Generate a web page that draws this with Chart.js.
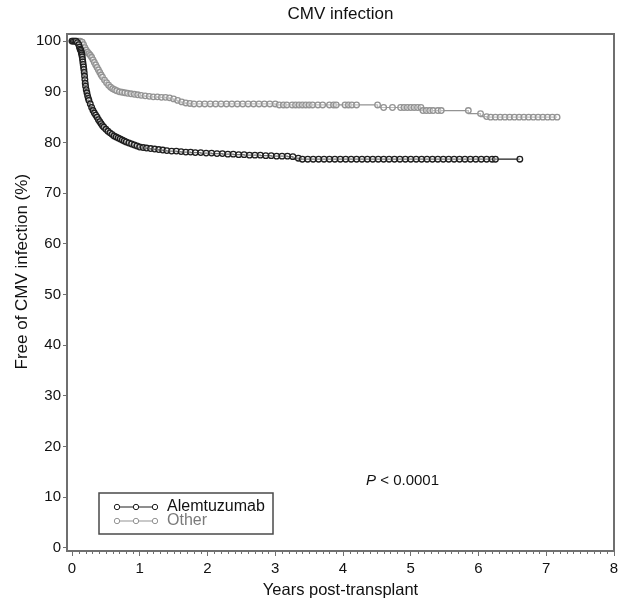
<!DOCTYPE html>
<html>
<head>
<meta charset="utf-8">
<script src="https://cdn.jsdelivr.net/npm/chart.js@4"></script>
<style>
  html, body { margin: 0; padding: 0; background: #fff; }
</style>
</head>
<body>
<canvas id="km-canvas" width="625" height="603"></canvas>
<script>
// Kaplan-Meier estimates (years post-transplant, % free of CMV infection)
const seriesLabels = ['Alemtuzumab', 'Other'];

const alemYears = [0, 0.02, 0.04, 0.06, 0.08, 0.1, 0.11, 0.12, 0.13, 0.135, 0.14, 0.145, 0.15, 0.155, 0.16,
    0.165, 0.17, 0.175, 0.18, 0.185, 0.19, 0.195, 0.2,
    0.21, 0.22, 0.23, 0.24, 0.25, 0.27, 0.29, 0.31, 0.33, 0.35, 0.37, 0.39, 0.41, 0.43, 0.45, 0.47, 0.5,
    0.53, 0.56, 0.59, 0.62, 0.65, 0.68, 0.71, 0.74, 0.77, 0.8, 0.84, 0.88, 0.92, 0.96, 1.0, 1.05, 1.1,
    1.16, 1.22, 1.28, 1.34, 1.4, 1.47, 1.54, 1.61, 1.68, 1.75, 1.82, 1.9, 1.98, 2.06, 2.14, 2.22, 2.3,
    2.38, 2.46, 2.54, 2.62, 2.7, 2.78, 2.86, 2.94, 3.02, 3.1, 3.18, 3.26, 3.34, 3.4, 3.48, 3.56, 3.64,
    3.72, 3.8, 3.88, 3.96, 4.04, 4.12, 4.2, 4.28, 4.36, 4.44, 4.52, 4.6, 4.68, 4.76, 4.84, 4.92, 5.0,
    5.08, 5.16, 5.24, 5.32, 5.4, 5.48, 5.56, 5.64, 5.72, 5.8, 5.88, 5.96, 6.04, 6.12, 6.2, 6.25, 6.61];
const alemFree = [100, 100, 100, 100, 99.7, 99.3, 98.8, 98.4, 98.2, 97.9, 97.6, 97.3, 96.9, 96.4, 95.9,
    95.4, 94.9, 94.4, 93.8, 93.1, 92.4, 91.7, 91.1,
    90.4, 89.8, 89.2, 88.7, 88.3, 87.6, 86.9, 86.3, 85.8, 85.4, 85.0, 84.5, 84.1, 83.7, 83.3, 83.0, 82.6,
    82.2, 81.9, 81.6, 81.3, 81.1, 80.9, 80.7, 80.5, 80.3, 80.1, 79.9, 79.7, 79.5, 79.3, 79.1, 79.0, 78.9,
    78.8, 78.7, 78.6, 78.5, 78.4, 78.3, 78.3, 78.2, 78.1, 78.1, 78.0, 78.0, 77.9, 77.9, 77.8, 77.8, 77.7,
    77.7, 77.6, 77.6, 77.5, 77.5, 77.5, 77.4, 77.4, 77.3, 77.3, 77.3, 77.2, 76.9, 76.7, 76.7, 76.7, 76.7,
    76.7, 76.7, 76.7, 76.7, 76.7, 76.7, 76.7, 76.7, 76.7, 76.7, 76.7, 76.7, 76.7, 76.7, 76.7, 76.7, 76.7,
    76.7, 76.7, 76.7, 76.7, 76.7, 76.7, 76.7, 76.7, 76.7, 76.7, 76.7, 76.7, 76.7, 76.7, 76.7, 76.7, 76.7];

const otherYears = [0, 0.03, 0.06, 0.09, 0.12, 0.15, 0.17, 0.19, 0.21, 0.23, 0.25, 0.27, 0.29, 0.31, 0.33,
    0.35, 0.37, 0.39, 0.41, 0.43, 0.45, 0.48, 0.51, 0.54, 0.57, 0.6, 0.63, 0.66, 0.7, 0.74, 0.78, 0.82,
    0.87, 0.92, 0.97, 1.02, 1.08, 1.14, 1.2, 1.26, 1.32, 1.38, 1.44, 1.5, 1.56, 1.62, 1.68, 1.74, 1.8,
    1.88, 1.96, 2.04, 2.12, 2.2, 2.28, 2.36, 2.44, 2.52, 2.6, 2.68, 2.76, 2.84, 2.92, 3.0, 3.06, 3.12,
    3.17, 3.25, 3.3, 3.35, 3.4, 3.45, 3.5, 3.55, 3.63, 3.7, 3.8, 3.86, 3.9, 4.03, 4.08, 4.13, 4.2, 4.51,
    4.6, 4.73, 4.85, 4.9, 4.95, 5.0, 5.05, 5.1, 5.15, 5.18, 5.23, 5.28, 5.33, 5.4, 5.45, 5.85, 6.03, 6.12,
    6.18, 6.25, 6.32, 6.39, 6.46, 6.53, 6.6, 6.67, 6.74, 6.81, 6.88, 6.95, 7.02, 7.09, 7.16];
const otherFree = [100, 100, 100, 100, 100, 99.8, 99.3, 98.7, 98.2, 97.8, 97.5, 97.2, 96.8, 96.3, 95.8,
    95.3, 94.8, 94.3, 93.8, 93.3, 92.9, 92.3, 91.8, 91.3, 90.9, 90.6, 90.4, 90.2, 90.0, 89.9, 89.8, 89.7,
    89.6, 89.5, 89.4, 89.3, 89.2, 89.1, 89.0, 89.0, 88.9, 88.9, 88.8, 88.6, 88.3, 88.0, 87.8, 87.7, 87.6,
    87.6, 87.6, 87.6, 87.6, 87.6, 87.6, 87.6, 87.6, 87.6, 87.6, 87.6, 87.6, 87.6, 87.6, 87.6, 87.4, 87.4,
    87.4, 87.4, 87.4, 87.4, 87.4, 87.4, 87.4, 87.4, 87.4, 87.4, 87.4, 87.4, 87.4, 87.4, 87.4, 87.4, 87.4, 87.4,
    86.9, 86.9, 86.9, 86.9, 86.9, 86.9, 86.9, 86.9, 86.9, 86.3, 86.3, 86.3, 86.3, 86.3, 86.3, 86.3, 85.7, 85.1,
    85.0, 85.0, 85.0, 85.0, 85.0, 85.0, 85.0, 85.0, 85.0, 85.0, 85.0, 85.0, 85.0, 85.0, 85.0];

const xTickValues = [0, 1, 2, 3, 4, 5, 6, 7, 8];
const yTickValues = [0, 10, 20, 30, 40, 50, 60, 70, 80, 90, 100];
const yAxisTitle = 'Free of CMV infection (%)';
const pValueText = '< 0.0001';

const toPoints = (xs, ys) => xs.map((x, i) => ({ x, y: ys[i] }));

const seriesColors = ['#1e1e1e', '#939393'];
const axisColor = '#6f6f6f';
const fontFamily = "'Liberation Sans', Arial, sans-serif";

// frame, minor x ticks, y title, inset legend and p-value
const extrasPlugin = {
    id: 'kmExtras',
    afterDraw(chart) {
        const { ctx, chartArea: area, scales } = chart;
        ctx.save();

        ctx.strokeStyle = axisColor;
        ctx.lineWidth = 2;
        ctx.strokeRect(area.left, area.top, area.right - area.left, area.bottom - area.top);

        // minor ticks every 0.1 year
        ctx.lineWidth = 1;
        ctx.beginPath();
        for (let i = 1; i < 80; i++) {
            if (i % 10 === 0) continue;
            const px = Math.round(scales.x.getPixelForValue(i / 10)) + 0.5;
            ctx.moveTo(px, area.bottom);
            ctx.lineTo(px, area.bottom + 3);
        }
        ctx.stroke();

        // y axis title (sits a little above the axis centre in the original)
        ctx.save();
        ctx.translate(22, scales.y.getPixelForValue(54.5));
        ctx.rotate(-Math.PI / 2);
        ctx.fillStyle = '#111';
        ctx.font = `17px ${fontFamily}`;
        ctx.textAlign = 'center';
        ctx.textBaseline = 'middle';
        ctx.fillText(yAxisTitle, 0, 0);
        ctx.restore();

        // legend box inside the plot
        const boxLeft = area.left + 32, boxTop = area.bottom - 58;
        ctx.strokeStyle = '#4a4a4a';
        ctx.lineWidth = 1.5;
        ctx.strokeRect(boxLeft, boxTop, 174, 41);
        ctx.font = `16px ${fontFamily}`;
        ctx.textBaseline = 'middle';
        chart.data.datasets.forEach((ds, i) => {
            const y = boxTop + 14 + i * 14;
            const x0 = boxLeft + 18, x1 = boxLeft + 56;
            ctx.strokeStyle = ds.borderColor;
            ctx.lineWidth = 1;
            ctx.beginPath();
            ctx.moveTo(x0, y);
            ctx.lineTo(x1, y);
            ctx.stroke();
            [x0, (x0 + x1) / 2, x1].forEach(cx => {
                ctx.beginPath();
                ctx.fillStyle = '#fff';
                ctx.arc(cx, y, 2.7, 0, Math.PI * 2);
                ctx.fill();
                ctx.stroke();
            });
            ctx.fillStyle = i === 0 ? '#111' : '#7a7a7a';
            ctx.fillText(ds.label, boxLeft + 68, y);
        });

        // log-rank p-value
        const px = scales.x.getPixelForValue(4.34);
        const py = scales.y.getPixelForValue(13.2);
        ctx.fillStyle = '#111';
        ctx.font = `italic 15px ${fontFamily}`;
        ctx.fillText('P', px, py);
        const pw = ctx.measureText('P ').width;
        ctx.font = `15px ${fontFamily}`;
        ctx.fillText(pValueText, px + pw, py);

        ctx.restore();
    }
};

const makeDataset = (label, xs, ys, color) => ({
    label,
    data: toPoints(xs, ys),
    borderColor: color,
    backgroundColor: 'rgba(0,0,0,0)',
    borderWidth: 1.2,
    stepped: 'after',
    pointStyle: 'circle',
    pointRadius: 2.8,
    pointBorderWidth: 1.3,
    pointBackgroundColor: 'rgba(255,255,255,0.4)',
    pointBorderColor: color,
    fill: false
});

const ctx = document.getElementById('km-canvas').getContext('2d');
new Chart(ctx, {
    type: 'line',
    data: {
        datasets: [
            makeDataset(seriesLabels[0], alemYears, alemFree, seriesColors[0]),
            makeDataset(seriesLabels[1], otherYears, otherFree, seriesColors[1])
        ]
    },
    options: {
        responsive: false,
        animation: false,
        devicePixelRatio: 1,
        layout: { padding: { left: 0, right: 11, top: 0, bottom: 0 } },
        plugins: {
            legend: { display: false },
            tooltip: { enabled: false },
            title: {
                display: true,
                text: 'CMV infection',
                fullSize: false,
                color: '#111',
                font: { family: fontFamily, size: 17, weight: 'normal' },
                padding: { top: 4, bottom: 9.6 }
            }
        },
        scales: {
            x: {
                type: 'linear',
                min: -0.074,
                max: 8,
                afterFit: s => { s.height = 52; },
                afterBuildTicks: s => { s.ticks = xTickValues.map(v => ({ value: v })); },
                grid: { drawOnChartArea: false, drawTicks: true, tickLength: 5, color: axisColor },
                border: { display: false },
                ticks: {
                    color: '#111',
                    font: { family: fontFamily, size: 15 },
                    padding: 4,
                    maxRotation: 0,
                    autoSkip: false
                },
                title: {
                    display: true,
                    text: 'Years post-transplant',
                    color: '#111',
                    font: { family: fontFamily, size: 16.5 },
                    padding: { top: 0, bottom: 3 }
                }
            },
            y: {
                type: 'linear',
                min: -0.6,
                max: 101.4,
                afterFit: s => { s.width = 67; },
                afterBuildTicks: s => { s.ticks = yTickValues.map(v => ({ value: v })); },
                grid: { drawOnChartArea: false, drawTicks: true, tickLength: 4, color: axisColor },
                border: { display: false },
                ticks: {
                    color: '#111',
                    font: { family: fontFamily, size: 15 },
                    padding: 2,
                    autoSkip: false
                },
                title: { display: false }
            }
        }
    },
    plugins: [extrasPlugin]
});
</script>
</body>
</html>
